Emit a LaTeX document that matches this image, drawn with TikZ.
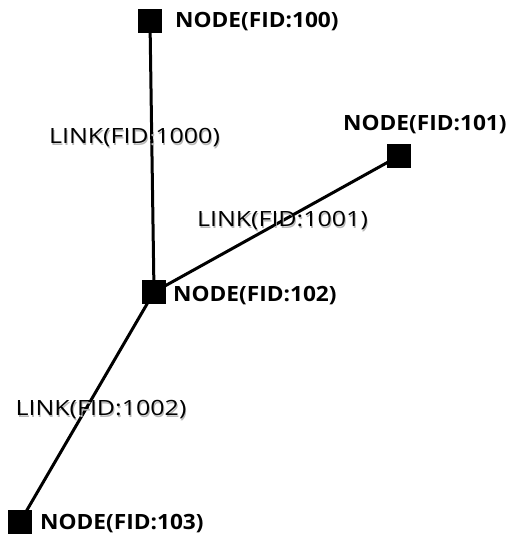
\documentclass[tikz,border=0pt]{standalone}
\usepackage{fontspec}
\setmainfont{Open Sans}
\newcommand{\nodetxt}[1]{\scalebox{1.08}[1]{#1}}
% link text with a soft grey shadow set underneath it
\newcommand{\linktxt}[1]{\scalebox{1.19}[1]{%
  \makebox[0pt][l]{\hspace{0.8pt}\raisebox{-2.4pt}{\color{black!28}#1}}#1}}
\begin{document}
\begin{tikzpicture}[x=1pt,y=-1pt,
  vert/.style={fill=black,minimum size=24pt,inner sep=0pt},
  nodelbl/.style={anchor=west,inner sep=0pt,font=\fontsize{21}{24}\selectfont\bfseries},
  linklbl/.style={inner sep=0pt,font=\fontsize{21}{24}\selectfont},
  edge/.style={line width=3pt}]
\useasboundingbox (0,0) rectangle (509,540);
% vertices
\node[vert] (n100) at (150,21) {};
\node[vert] (n101) at (399,156) {};
\node[vert] (n102) at (154,292) {};
\node[vert] (n103) at (20,522) {};
% links
\draw[edge] (n100.center) -- (n102.center);
\draw[edge] (n101.center) -- (n102.center);
\draw[edge] (n102.center) -- (n103.center);
% vertex labels
\node[nodelbl] (t100) at (175,22) {\nodetxt{NODE(FID:100)}};
\node[nodelbl] (t101) at (343,125) {\nodetxt{NODE(FID:101)}};
\node[nodelbl] (t102) at (173,296) {\nodetxt{NODE(FID:102)}};
\node[nodelbl] (t103) at (40,524) {\nodetxt{NODE(FID:103)}};
% link labels
\node[linklbl] (l1000) at (134.5,138.5) {\linktxt{LINK(FID:1000)}};
\node[linklbl] (l1001) at (282.5,221.5) {\linktxt{LINK(FID:1001)}};
\node[linklbl] (l1002) at (101,410.5) {\linktxt{LINK(FID:1002)}};
\end{tikzpicture}
\end{document}
